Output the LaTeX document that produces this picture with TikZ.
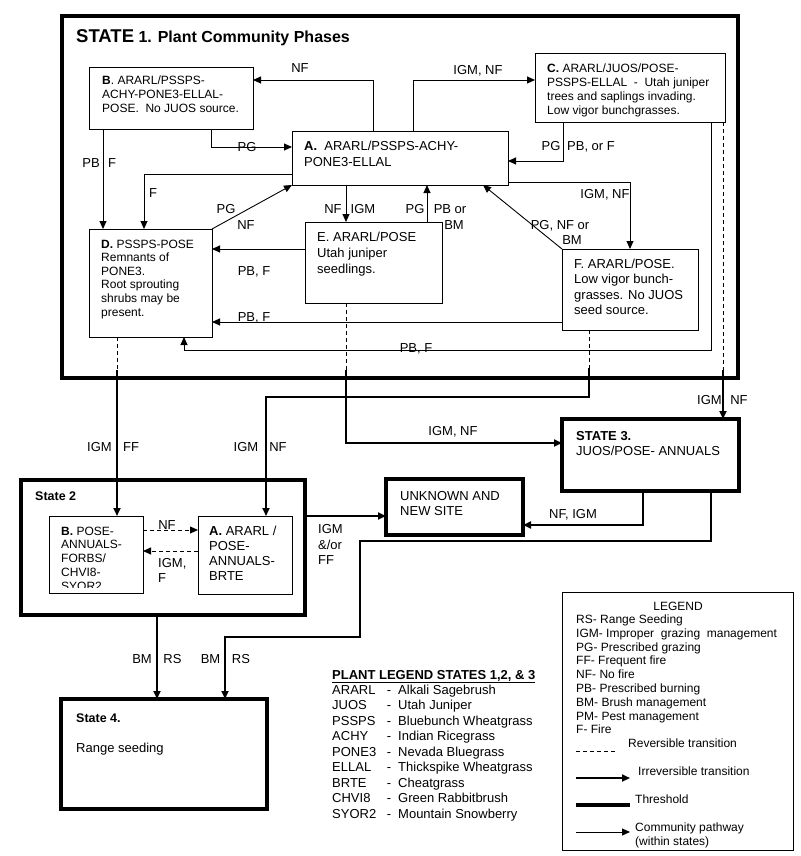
\documentclass[tikz,border=0pt]{standalone}
\usepackage{fontspec}
\setmainfont{Liberation Sans}
\usetikzlibrary{arrows.meta}
\newcommand\mlines[6]{%
  \foreach \t [count=\i from 0] in {#6}{\node[#2, anchor=base west, inner sep=0pt] (#1\i) at (#3, #4+\i*#5) {\t};}}
\begin{document}
\begin{tikzpicture}[x=1pt,y=-1pt,
  box/.style={draw, line width=0.9pt, anchor=north west, inner sep=0pt, outer sep=0pt},
  sbox/.style={box, line width=4pt},
  tip/.style={-{Triangle[length=8pt,width=7pt]}},
  pw/.style={line width=0.9pt, tip},
  irr/.style={line width=1.8pt, -{Triangle[length=8pt,width=7pt]}},
  rev/.style={line width=0.9pt, dash pattern=on 4pt off 3pt},
  revtip/.style={rev, tip},
  ft12/.style={font=\fontsize{12}{14}\selectfont},
  ft13/.style={font=\fontsize{13}{15}\selectfont},
  lab/.style={ft13, anchor=base, inner sep=0pt},
  labl/.style={ft13, anchor=base west, inner sep=0pt},
]
\useasboundingbox (0,0) rectangle (800,856);

% ---------- State 1 ----------
\node[sbox, minimum width=676pt, minimum height=362pt] (S1) at (62,16) {};
\node[anchor=base west, inner sep=0pt, font=\bfseries\fontsize{16}{18}\selectfont] (title) at (76,43)
  {{\fontsize{18.5}{20}\selectfont STATE} 1. Plant Community Phases};

\node[box, minimum width=164pt, minimum height=62pt] (B) at (89,67) {};
\mlines{tB}{ft12}{102}{85}{14}{{\textbf{B}. ARARL/PSSPS-},{ACHY-PONE3-ELLAL-},{POSE.\ \ No JUOS source.}}

\node[box, minimum width=216pt, minimum height=54pt] (A) at (292,131) {};
\mlines{tA}{ft13}{304}{150}{16}{{\textbf{A.}\ \ ARARL/PSSPS-ACHY-},{PONE3-ELLAL}}

\node[box, minimum width=190pt, minimum height=69pt] (C) at (535,53) {};
\mlines{tC}{ft12}{547}{73}{13.8}{{\textbf{C.} ARARL/JUOS/POSE-},{PSSPS-ELLAL\ \ -\ \ Utah juniper},{trees and saplings invading.},{Low vigor bunchgrasses.}}

\node[box, minimum width=123pt, minimum height=108pt] (D) at (89,229) {};
\mlines{tD}{ft12}{101}{248}{13.6}{{\textbf{D.} PSSPS-POSE},{Remnants of},{PONE3.},{Root sprouting},{shrubs may be},{present.}}

\node[box, minimum width=137pt, minimum height=81pt] (E) at (305,222) {};
\mlines{tE}{ft13}{317}{241}{16}{{E. ARARL/POSE},{Utah juniper},{seedlings.}}

\node[box, minimum width=136pt, minimum height=81pt] (F) at (562,249) {};
\mlines{tF}{ft13}{574}{268}{15.6}{{F. ARARL/POSE.},{Low vigor bunch-},{grasses. No JUOS},{seed source.}}

% pathways within State 1
\draw[pw] (A.north -| 373,0) |- (B.east |- 0,80);
\node[lab] (lNF1) at (300,72.5) {NF};
\draw[pw] (A.north -| 413,0) |- (C.west |- 0,80);
\node[lab] (lIN1) at (478,74.5) {IGM, NF};
\draw[pw] (B.south -| 211,0) |- (A.west |- 0,147);
\node[lab] (lPG1) at (247,151) {PG};
\draw[pw] (B.south -| 103,0) -- (D.north -| 103,0);
\node[lab] (lPB1) at (91,167) {PB};
\node[lab] (lF1) at (112,167) {F};
\draw[pw] (A.west |- 0,174) -| (D.north -| 144,0);
\node[lab] (lF2) at (153,197) {F};
\draw[pw] (D.north east) -- (A.south west);
\node[lab] (lPG2) at (226,213) {PG};
\node[lab] (lNF2) at (246,229) {NF};
\draw[pw] (A.south -| 346,0) -- (E.north -| 346,0);
\node[lab] (lNF3) at (333,213) {NF};
\node[lab] (lIGM3) at (363,213) {IGM};
\draw[pw] (E.north -| 427,0) -- (A.south -| 427,0);
\node[lab] (lPG4) at (415,213) {PG};
\node[lab] (lPB4) at (450,213) {PB or};
\node[lab] (lBM4) at (454,229) {BM};
\draw[pw] (F.north west) -- (A.south -| 483,0);
\node[lab] (lPG5) at (560,229) {PG, NF or};
\node[lab] (lBM5) at (572,244) {BM};
\draw[pw] (A.east |- 0,182) -| (F.north -| 630,0);
\node[lab] (lIN6) at (605,198) {IGM, NF};
\draw[pw] (C.south -| 563,0) |- (A.east |- 0,161);
\node[lab] (lPG7) at (551,150) {PG};
\node[lab] (lPB7) at (591,150) {PB, or F};
\draw[pw] (E.west |- 0,249) -- (D.east |- 0,249);
\node[lab] (lPB8) at (254,275) {PB, F};
\draw[pw] (F.west |- 0,322) -- (D.east |- 0,322);
\node[lab] (lPB9) at (254,321) {PB, F};
\coordinate (k14) at (184,350);
\draw[pw] (C.south -| 711,0) |- (k14) -- (D.south -| k14);
\node[lab] (lPB10) at (416,352) {PB, F};

% ---------- other states ----------
\node[sbox, minimum width=177pt, minimum height=72pt] (S3) at (562,419) {};
\node[ft13, font=\bfseries\fontsize{13}{15}\selectfont, anchor=base west, inner sep=0pt] (tS3a) at (576,440) {STATE 3.};
\node[labl] (tS3b) at (576,455) {JUOS/POSE- ANNUALS};

\node[sbox, minimum width=137pt, minimum height=56pt] (UN) at (386,479) {};
\mlines{tU}{ft13}{400}{500}{15}{{UNKNOWN AND},{NEW SITE}}

\node[sbox, minimum width=284pt, minimum height=135pt] (S2) at (21,480) {};
\node[anchor=base west, inner sep=0pt, font=\bfseries\fontsize{12.5}{14}\selectfont] (tS2) at (35,500) {State 2};
\node[box, minimum width=94pt, minimum height=77pt] (S2B) at (49,516) {};
\begin{scope}
  \clip (49,516) rectangle (143,587);
  \mlines{tSB}{ft12}{61}{535}{13.8}{{\textbf{B.} POSE-},{ANNUALS-},{FORBS/},{CHVI8-},{SYOR2}}
\end{scope}
\node[box, minimum width=94pt, minimum height=78pt] (S2A) at (198,516) {};
\mlines{tSA}{ft13}{209}{535}{15.3}{{\textbf{A.} ARARL /},{POSE-},{ANNUALS-},{BRTE}}

\node[sbox, minimum width=206pt, minimum height=110pt] (S4) at (61,699) {};
\node[anchor=base west, inner sep=0pt, font=\bfseries\fontsize{12.5}{14}\selectfont] (tS4a) at (76,722) {State 4.};
\node[labl] (tS4b) at (76,752) {Range seeding};

% ---------- transitions ----------
\coordinate (jC) at (723,370);
\draw[rev] (C.south -| jC) -- (jC);
\draw[irr] (jC) -- (S3.north -| jC);
\node[lab] (lIGMc) at (709.5,404) {IGM};
\node[lab] (lNFc) at (739,404) {NF};

\coordinate (jD) at (117,370);
\draw[rev] (D.south -| jD) -- (jD);
\draw[irr] (jD) -- (S2B.north -| jD);
\node[lab] (lIGMd) at (99.5,451) {IGM};
\node[lab] (lFFd) at (131,451) {FF};

\coordinate (jE) at (346,370);
\draw[rev] (E.south -| jE) -- (jE);
\draw[irr] (jE) |- (S3.west |- 0,443);
\node[lab] (lINe) at (453,435) {IGM, NF};

\coordinate (jF) at (589,368);
\coordinate (kF) at (266,397);
\draw[rev] (F.south -| jF) -- (jF);
\draw[irr] (jF) |- (kF) -- (S2A.north -| kF);
\node[lab] (lIGMf) at (246,451) {IGM};
\node[lab] (lNFf) at (278,451) {NF};

\draw[irr] (S3.south -| 643,0) |- (UN.east |- 0,525);
\node[lab] (lNFu) at (573,518) {NF, IGM};

\coordinate (k1) at (360,541);
\coordinate (k2) at (225,637);
\draw[irr] (S3.south -| 711,0) |- (k1) |- (k2) -- (S4.north -| k2);
\node[lab] (lBM2) at (210.5,663) {BM};
\node[lab] (lRS2) at (241,663) {RS};

\draw[irr] (S2.east |- 0,516) -- (UN.west |- 0,516);
\mlines{lIF}{ft13}{318}{533.5}{15.7}{{IGM},{\&/or},{FF}}

\draw[irr] (S2.south -| 157,0) -- (S4.north -| 157,0);
\node[lab] (lBM1) at (142,663) {BM};
\node[lab] (lRS1) at (172.5,663) {RS};

\draw[revtip] (S2B.east |- 0,530) -- (S2A.west |- 0,530);
\node[lab] (lNFs) at (167,529) {NF};
\draw[revtip] (S2A.west |- 0,551) -- (S2B.east |- 0,551);
\mlines{lIGs}{ft13}{158}{567}{15}{{IGM,},{F}}

% ---------- plant legend ----------
\node[anchor=base west, inner sep=0pt, font=\bfseries\fontsize{13}{15}\selectfont] (plt) at (332,679)
  {\underline{PLANT LEGEND STATES 1,2, \& 3}};
\foreach \c/\n [count=\i from 0] in {ARARL/Alkali Sagebrush, JUOS/Utah Juniper, PSSPS/Bluebunch Wheatgrass,
  ACHY/Indian Ricegrass, PONE3/Nevada Bluegrass, ELLAL/Thickspike Wheatgrass, BRTE/Cheatgrass,
  CHVI8/Green Rabbitbrush, SYOR2/Mountain Snowberry}{
  \node[labl] (pc\i) at (332, 694+\i*15.5) {\c};
  \node[lab] (pd\i) at (389, 694+\i*15.5) {-};
  \node[labl] (pn\i) at (398, 694+\i*15.5) {\n};
}

% ---------- legend ----------
\node[box, minimum width=231pt, minimum height=258pt] (LG) at (562,592) {};
\node[ft12, anchor=base, inner sep=0pt] (lgt) at (678,610) {LEGEND};
\mlines{lg}{ft12}{576}{623.5}{13.8}{{RS- Range Seeding},{IGM- Improper\ \ grazing\ \ management},{PG- Prescribed grazing},{FF- Frequent fire},{NF- No fire},{PB- Prescribed burning},{BM- Brush management},{PM- Pest management},{F- Fire}}
\coordinate (g1a) at (576,751); \coordinate (g1b) at (617,751);
\draw[rev] (g1a) -- (g1b);
\node[ft12, anchor=base west, inner sep=0pt] (g1t) at (628,747) {Reversible transition};
\coordinate (g2a) at (576,778); \coordinate (g2b) at (630,778);
\draw[irr] (g2a) -- (g2b);
\node[ft12, anchor=base west, inner sep=0pt] (g2t) at (638,775) {Irreversible transition};
\coordinate (g3a) at (576,805); \coordinate (g3b) at (630,805);
\draw[line width=4pt] (g3a) -- (g3b);
\node[ft12, anchor=base west, inner sep=0pt] (g3t) at (635,803) {Threshold};
\coordinate (g4a) at (576,832); \coordinate (g4b) at (630,832);
\draw[pw] (g4a) -- (g4b);
\mlines{g4t}{ft12}{635}{831}{14}{{Community pathway},{(within states)}}
\end{tikzpicture}
\end{document}
